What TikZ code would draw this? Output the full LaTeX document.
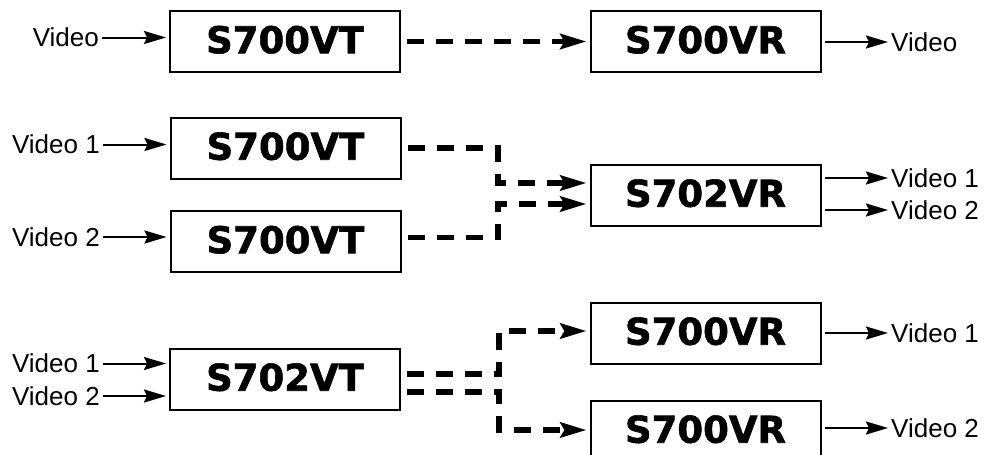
\documentclass[tikz,border=0pt]{standalone}
\usepackage{fontspec}
\usepackage{tikz}
\usetikzlibrary{shapes, arrows.meta, calc, positioning}
\setmainfont{Liberation Sans}
\newfontfamily\unitfamily{DejaVu Sans}[FakeBold=1.5]

\begin{document}
\begin{tikzpicture}[x=1pt, y=-1pt,
            unit/.style={draw, line width=2pt, minimum width=230pt, minimum height=61pt,
                inner sep=0pt, text depth=4pt, font=\unitfamily\bfseries\fontsize{37}{37}\selectfont},
            sig/.style={inner sep=0pt, font=\fontsize{26}{26}\selectfont},
            wire/.style={line width=2pt, -{Stealth[length=22pt, width=13pt, inset=3pt]},
                shorten <=3pt, shorten >=3pt},
            link/.style={line width=5.5pt, dash pattern=on 17pt off 12pt,
                -{Stealth[length=26pt, width=15pt, inset=4pt]}, shorten <=6pt, shorten >=3pt}]
            
        \useasboundingbox (0,0) rectangle (993,455);

        % one transmitter, one receiver
        \node[unit] (vtA) at (285,41.5) {S700VT};
        \node[unit] (vrA) at (705.5,41.5) {S700VR};
        \node[sig, anchor=east] (inA) at (99,37.5) {Video};
        \node[sig, anchor=west] (outA) at (891,42) {Video};
        \draw[wire] (inA.east) -- (inA.east -| vtA.west);
        \draw[wire] (outA.west -| vrA.east) -- (outA.west);
        \draw[link] (vtA.east) -- (vrA.west);

        % two transmitters, one receiver
        \node[unit] (vtB1) at (285.5,148) {S700VT};
        \node[unit] (vtB2) at (285.5,241.5) {S700VT};
        \node[unit] (vrB) at (705.5,195) {S702VR};
        \node[sig, anchor=east] (inB1) at (100,144.5) {Video 1};
        \node[sig, anchor=east] (inB2) at (100,237) {Video 2};
        \node[sig, anchor=west] (outB1) at (891,178) {Video 1};
        \node[sig, anchor=west] (outB2) at (891,210) {Video 2};
        \draw[wire] (inB1.east) -- (inB1.east -| vtB1.west);
        \draw[wire] (inB2.east) -- (inB2.east -| vtB2.west);
        \draw[wire] (outB1.west -| vrB.east) -- (outB1.west);
        \draw[wire] (outB2.west -| vrB.east) -- (outB2.west);
        \draw[link] (vtB1.east) -- ++(96.5,0) |- ([yshift=12pt]vrB.west);
        \draw[link] ([yshift=4pt]vtB2.east) -- ++(96.5,0) |- ([yshift=-9pt]vrB.west);

        % one transmitter, two receivers
        \node[unit] (vtC) at (285,379) {S702VT};
        \node[unit] (vrC1) at (705.5,333) {S700VR};
        \node[unit] (vrC2) at (705.5,431) {S700VR};
        \node[sig, anchor=east] (inC1) at (100,363.5) {Video 1};
        \node[sig, anchor=east] (inC2) at (100,396) {Video 2};
        \node[sig, anchor=west] (outC1) at (891,333) {Video 1};
        \node[sig, anchor=west] (outC2) at (891,428) {Video 2};
        \draw[wire] (inC1.east) -- (inC1.east -| vtC.west);
        \draw[wire] (inC2.east) -- (inC2.east -| vtC.west);
        \draw[wire] (outC1.west -| vrC1.east) -- (outC1.west);
        \draw[wire] (outC2.west -| vrC2.east) -- (outC2.west);
        \draw[link] ([yshift=5pt]vtC.east) -- ++(98,0) |- ([yshift=2pt]vrC1.west);
        \draw[link] ([yshift=-13pt]vtC.east) -- ++(98,0) |- ([yshift=1pt]vrC2.west);

\end{tikzpicture}
\end{document}
